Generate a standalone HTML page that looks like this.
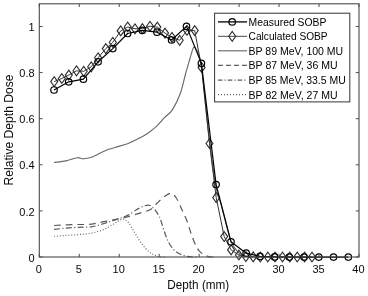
<!DOCTYPE html>
<html><head><meta charset="utf-8"><title>SOBP</title>
<style>
html,body{margin:0;padding:0;background:#fff;}
body{width:368px;height:296px;overflow:hidden;font-family:"Liberation Sans",sans-serif;}
svg{display:block;transform:translateZ(0);will-change:transform;filter:blur(0.3px);}
svg text{font-family:"Liberation Sans",sans-serif;fill:#0a0a0a;}
.tk text{font-size:11px;}
.lt text{font-size:10.55px;fill:#000;}
.ax line{stroke:#4a4a4a;stroke-width:1;}
.s89{fill:none;stroke:#6a6a6a;stroke-width:1.15;}
.s87{fill:none;stroke:#5a5a5a;stroke-width:1.2;stroke-dasharray:6.8 4.9;}
.l87{stroke-dasharray:4.8 3.2;}
.s85{fill:none;stroke:#5a5a5a;stroke-width:1.2;stroke-dasharray:6 2.4 1.1 2.4;}
.l85{stroke-dasharray:4.5 2.1 1.1 2.1;}
.s82{fill:none;stroke:#666;stroke-width:1.2;stroke-dasharray:1 1.9;}
.l82{stroke-dasharray:1 2;}
</style></head>
<body>
<svg width="368" height="296" viewBox="0 0 368 296">
<rect x="0" y="0" width="368" height="296" fill="#fff"/>
<path class="s89" d="M54.0 162.5C56.0 162.2 62.2 161.7 66.0 160.9C69.8 160.1 74.1 158.0 77.0 157.7C79.9 157.3 81.0 158.9 83.5 158.8C86.0 158.7 88.6 158.3 92.2 157.0C95.8 155.7 101.4 152.3 105.2 150.7C109.0 149.1 111.3 148.7 115.0 147.5C118.7 146.3 123.3 145.3 127.5 143.7C131.7 142.1 136.8 139.5 140.0 137.8C143.2 136.1 144.4 135.5 147.0 133.7C149.6 131.9 152.7 129.9 155.6 127.2C158.5 124.5 161.6 120.6 164.4 117.7C167.2 114.8 169.9 113.6 172.5 109.6C175.1 105.6 178.0 99.6 180.2 93.8C182.3 88.0 183.8 80.4 185.4 74.5C187.0 68.6 188.7 63.0 190.0 58.5C191.3 54.0 192.5 49.1 193.5 47.5C194.5 45.9 195.2 47.8 196.0 49.0C196.8 50.2 197.6 51.2 198.5 54.5C199.4 57.8 200.0 55.0 201.7 68.5C203.4 82.0 206.4 115.7 208.8 135.5C211.2 155.3 214.0 176.1 216.0 187.5C218.0 198.9 219.6 199.0 221.0 204.0C222.4 209.0 222.8 211.2 224.5 217.5C226.2 223.8 228.8 235.8 231.0 241.5C233.2 247.2 235.7 249.6 238.0 252.0C240.3 254.4 242.7 255.2 245.0 256.0C247.3 256.8 249.5 256.8 252.0 257.0C254.5 257.0 258.7 257.0 260.0 257.0"/>
<path class="s87" d="M54.0 225.5C56.0 225.4 61.9 225.0 66.0 224.8C70.1 224.6 74.3 224.6 78.5 224.5C82.7 224.4 87.0 224.7 91.3 224.2C95.5 223.7 99.7 222.5 104.0 221.7C108.3 220.8 113.2 219.9 117.0 219.1C120.8 218.3 123.1 218.0 127.0 217.0C130.9 216.0 136.4 214.2 140.5 212.9C144.6 211.6 148.5 210.7 151.4 208.9C154.3 207.1 155.8 204.2 158.1 202.1C160.3 200.0 162.8 197.7 164.9 196.2C167.1 194.7 169.2 193.1 171.0 193.3C172.8 193.5 174.3 195.0 176.0 197.5C177.7 200.0 179.6 204.6 181.4 208.5C183.2 212.4 185.4 216.9 187.0 221.0C188.6 225.1 189.7 229.4 191.0 233.2C192.3 237.0 193.7 241.1 195.1 244.0C196.5 246.9 197.6 249.0 199.2 250.8C200.8 252.6 202.6 254.0 204.6 255.0C206.6 256.0 208.8 256.7 211.0 257.0C213.2 257.0 216.8 257.0 218.0 257.0"/>
<path class="s85" d="M54.0 229.4C56.0 229.2 61.9 228.5 66.0 228.2C70.1 227.8 74.3 227.5 78.5 227.3C82.7 227.1 87.0 227.4 91.3 226.8C95.5 226.2 100.3 224.6 104.0 223.5C107.7 222.4 109.7 221.8 113.5 220.5C117.3 219.2 123.0 217.5 127.0 215.6C131.1 213.7 134.9 210.5 137.8 208.9C140.7 207.3 142.6 206.4 144.6 205.8C146.6 205.2 148.4 205.0 150.0 205.5C151.6 206.0 152.7 207.2 154.0 208.7C155.3 210.2 157.0 212.7 158.1 214.5C159.2 216.3 159.5 216.8 160.5 219.5C161.5 222.2 162.7 226.9 164.0 230.5C165.3 234.1 166.5 238.2 168.1 241.3C169.7 244.5 171.7 247.4 173.5 249.4C175.3 251.4 176.9 252.4 178.9 253.5C180.9 254.6 183.5 255.4 185.7 256.0C187.9 256.6 189.9 256.8 192.0 257.0C194.1 257.0 197.0 257.0 198.0 257.0"/>
<path class="s82" d="M54.0 236.5C56.0 236.3 61.9 235.8 66.0 235.5C70.1 235.2 74.3 234.9 78.5 234.5C82.7 234.1 87.0 234.0 91.3 233.2C95.5 232.3 100.3 230.9 104.0 229.4C107.7 227.9 111.0 225.4 113.5 223.9C116.0 222.4 117.4 221.5 119.0 220.7C120.6 219.9 121.4 218.8 123.0 219.1C124.6 219.4 126.4 220.2 128.4 222.5C130.4 224.8 132.8 229.6 135.1 233.2C137.3 236.8 139.7 241.0 141.9 244.0C144.2 247.0 146.6 249.5 148.6 251.3C150.6 253.1 152.1 253.9 154.0 254.8C155.9 255.7 158.0 256.4 160.0 256.8C162.0 257.0 165.0 257.0 166.0 257.0"/>
<polyline points="54.2,81.6 61.8,78.5 68.8,75.1 76.5,70.8 83.7,71.3 91.2,66.8 98.1,57.8 105.8,48.6 112.8,42.3 120.7,30.9 127.7,27.0 135.0,28.8 142.4,28.6 150.0,26.2 157.3,27.1 165.0,33.1 172.0,37.4 179.7,40.3 187.0,30.3 194.7,30.6 201.6,67.4 209.5,143.5 216.2,197.6 224.2,236.6 231.1,249.9 238.9,255.0 245.9,256.6 253.2,256.9 260.3,257.0 267.8,257.0 275.0,257.0 282.5,257.0 289.8,257.0 297.2,257.0 304.6,257.0 312.0,257.0" fill="none" stroke="#333" stroke-width="1.0"/>
<path d="M50.7 81.6L54.2 76.7L57.7 81.6L54.2 86.5Z" fill="none" stroke="#2a2a2a" stroke-width="1.1"/><path d="M58.3 78.5L61.8 73.6L65.3 78.5L61.8 83.4Z" fill="none" stroke="#2a2a2a" stroke-width="1.1"/><path d="M65.3 75.1L68.8 70.2L72.3 75.1L68.8 80.0Z" fill="none" stroke="#2a2a2a" stroke-width="1.1"/><path d="M73.0 70.8L76.5 65.9L80.0 70.8L76.5 75.7Z" fill="none" stroke="#2a2a2a" stroke-width="1.1"/><path d="M80.2 71.3L83.7 66.4L87.2 71.3L83.7 76.2Z" fill="none" stroke="#2a2a2a" stroke-width="1.1"/><path d="M87.7 66.8L91.2 61.9L94.7 66.8L91.2 71.7Z" fill="none" stroke="#2a2a2a" stroke-width="1.1"/><path d="M94.6 57.8L98.1 52.9L101.6 57.8L98.1 62.7Z" fill="none" stroke="#2a2a2a" stroke-width="1.1"/><path d="M102.3 48.6L105.8 43.7L109.3 48.6L105.8 53.5Z" fill="none" stroke="#2a2a2a" stroke-width="1.1"/><path d="M109.3 42.3L112.8 37.4L116.3 42.3L112.8 47.2Z" fill="none" stroke="#2a2a2a" stroke-width="1.1"/><path d="M117.2 30.9L120.7 26.0L124.2 30.9L120.7 35.8Z" fill="none" stroke="#2a2a2a" stroke-width="1.1"/><path d="M124.2 27.0L127.7 22.1L131.2 27.0L127.7 31.9Z" fill="none" stroke="#2a2a2a" stroke-width="1.1"/><path d="M131.5 28.8L135.0 23.9L138.5 28.8L135.0 33.7Z" fill="none" stroke="#2a2a2a" stroke-width="1.1"/><path d="M138.9 28.6L142.4 23.7L145.9 28.6L142.4 33.5Z" fill="none" stroke="#2a2a2a" stroke-width="1.1"/><path d="M146.5 26.2L150.0 21.4L153.5 26.2L150.0 31.1Z" fill="none" stroke="#2a2a2a" stroke-width="1.1"/><path d="M153.8 27.1L157.3 22.2L160.8 27.1L157.3 32.0Z" fill="none" stroke="#2a2a2a" stroke-width="1.1"/><path d="M161.5 33.1L165.0 28.2L168.5 33.1L165.0 38.0Z" fill="none" stroke="#2a2a2a" stroke-width="1.1"/><path d="M168.5 37.4L172.0 32.5L175.5 37.4L172.0 42.3Z" fill="none" stroke="#2a2a2a" stroke-width="1.1"/><path d="M176.2 40.3L179.7 35.4L183.2 40.3L179.7 45.2Z" fill="none" stroke="#2a2a2a" stroke-width="1.1"/><path d="M183.5 30.3L187.0 25.4L190.5 30.3L187.0 35.2Z" fill="none" stroke="#2a2a2a" stroke-width="1.1"/><path d="M191.2 30.6L194.7 25.7L198.2 30.6L194.7 35.5Z" fill="none" stroke="#2a2a2a" stroke-width="1.1"/><path d="M198.1 67.4L201.6 62.5L205.1 67.4L201.6 72.3Z" fill="none" stroke="#2a2a2a" stroke-width="1.1"/><path d="M206.0 143.5L209.5 138.6L213.0 143.5L209.5 148.4Z" fill="none" stroke="#2a2a2a" stroke-width="1.1"/><path d="M212.7 197.6L216.2 192.7L219.7 197.6L216.2 202.5Z" fill="none" stroke="#2a2a2a" stroke-width="1.1"/><path d="M220.7 236.6L224.2 231.7L227.7 236.6L224.2 241.5Z" fill="none" stroke="#2a2a2a" stroke-width="1.1"/><path d="M227.6 249.9L231.1 245.0L234.6 249.9L231.1 254.8Z" fill="none" stroke="#2a2a2a" stroke-width="1.1"/><path d="M235.4 255.0L238.9 250.1L242.4 255.0L238.9 259.9Z" fill="none" stroke="#2a2a2a" stroke-width="1.1"/><path d="M242.4 256.6L245.9 251.7L249.4 256.6L245.9 261.5Z" fill="none" stroke="#2a2a2a" stroke-width="1.1"/><path d="M249.7 256.9L253.2 252.0L256.7 256.9L253.2 261.8Z" fill="none" stroke="#2a2a2a" stroke-width="1.1"/><path d="M256.8 257.0L260.3 252.1L263.8 257.0L260.3 261.9Z" fill="none" stroke="#2a2a2a" stroke-width="1.1"/><path d="M264.3 257.0L267.8 252.1L271.3 257.0L267.8 261.9Z" fill="none" stroke="#2a2a2a" stroke-width="1.1"/><path d="M271.5 257.0L275.0 252.1L278.5 257.0L275.0 261.9Z" fill="none" stroke="#2a2a2a" stroke-width="1.1"/><path d="M279.0 257.0L282.5 252.1L286.0 257.0L282.5 261.9Z" fill="none" stroke="#2a2a2a" stroke-width="1.1"/><path d="M286.3 257.0L289.8 252.1L293.3 257.0L289.8 261.9Z" fill="none" stroke="#2a2a2a" stroke-width="1.1"/><path d="M293.7 257.0L297.2 252.1L300.7 257.0L297.2 261.9Z" fill="none" stroke="#2a2a2a" stroke-width="1.1"/><path d="M301.1 257.0L304.6 252.1L308.1 257.0L304.6 261.9Z" fill="none" stroke="#2a2a2a" stroke-width="1.1"/><path d="M308.5 257.0L312.0 252.1L315.5 257.0L312.0 261.9Z" fill="none" stroke="#2a2a2a" stroke-width="1.1"/>
<polyline points="54.0,90.0 68.7,81.8 83.4,79.2 98.1,61.8 112.8,48.6 127.6,33.5 142.3,30.4 157.0,32.2 171.6,40.0 186.5,26.4 201.4,63.4 216.1,184.6 231.0,241.8 246.2,253.2 260.0,256.4 274.6,256.9 289.3,257.1 304.0,257.1 318.8,257.1 333.5,257.1 348.3,257.1" fill="none" stroke="#000" stroke-width="1.2" stroke-linejoin="round"/>
<circle cx="54.0" cy="90.0" r="3.25" fill="none" stroke="#000" stroke-width="1.2"/><circle cx="68.7" cy="81.8" r="3.25" fill="none" stroke="#000" stroke-width="1.2"/><circle cx="83.4" cy="79.2" r="3.25" fill="none" stroke="#000" stroke-width="1.2"/><circle cx="98.1" cy="61.8" r="3.25" fill="none" stroke="#000" stroke-width="1.2"/><circle cx="112.8" cy="48.6" r="3.25" fill="none" stroke="#000" stroke-width="1.2"/><circle cx="127.6" cy="33.5" r="3.25" fill="none" stroke="#000" stroke-width="1.2"/><circle cx="142.3" cy="30.4" r="3.25" fill="none" stroke="#000" stroke-width="1.2"/><circle cx="157.0" cy="32.2" r="3.25" fill="none" stroke="#000" stroke-width="1.2"/><circle cx="171.6" cy="40.0" r="3.25" fill="none" stroke="#000" stroke-width="1.2"/><circle cx="186.5" cy="26.4" r="3.25" fill="none" stroke="#000" stroke-width="1.2"/><circle cx="201.4" cy="63.4" r="3.25" fill="none" stroke="#000" stroke-width="1.2"/><circle cx="216.1" cy="184.6" r="3.25" fill="none" stroke="#000" stroke-width="1.2"/><circle cx="231.0" cy="241.8" r="3.25" fill="none" stroke="#000" stroke-width="1.2"/><circle cx="246.2" cy="253.2" r="3.25" fill="none" stroke="#000" stroke-width="1.2"/><circle cx="260.0" cy="256.4" r="3.25" fill="none" stroke="#000" stroke-width="1.2"/><circle cx="274.6" cy="256.9" r="3.25" fill="none" stroke="#000" stroke-width="1.2"/><circle cx="289.3" cy="257.1" r="3.25" fill="none" stroke="#000" stroke-width="1.2"/><circle cx="304.0" cy="257.1" r="3.25" fill="none" stroke="#000" stroke-width="1.2"/><circle cx="318.8" cy="257.1" r="3.25" fill="none" stroke="#000" stroke-width="1.2"/><circle cx="333.5" cy="257.1" r="3.25" fill="none" stroke="#000" stroke-width="1.2"/><circle cx="348.3" cy="257.1" r="3.25" fill="none" stroke="#000" stroke-width="1.2"/>
<g class="ax"><rect x="39.3" y="3.8" width="319.7" height="253.2" fill="none" stroke="#4a4a4a" stroke-width="1.1"/><line x1="39.3" y1="257" x2="39.3" y2="253.8"/><line x1="39.3" y1="3.8" x2="39.3" y2="7.0"/><line x1="79.25999999999999" y1="257" x2="79.25999999999999" y2="253.8"/><line x1="79.25999999999999" y1="3.8" x2="79.25999999999999" y2="7.0"/><line x1="119.22" y1="257" x2="119.22" y2="253.8"/><line x1="119.22" y1="3.8" x2="119.22" y2="7.0"/><line x1="159.18" y1="257" x2="159.18" y2="253.8"/><line x1="159.18" y1="3.8" x2="159.18" y2="7.0"/><line x1="199.14" y1="257" x2="199.14" y2="253.8"/><line x1="199.14" y1="3.8" x2="199.14" y2="7.0"/><line x1="239.10000000000002" y1="257" x2="239.10000000000002" y2="253.8"/><line x1="239.10000000000002" y1="3.8" x2="239.10000000000002" y2="7.0"/><line x1="279.06" y1="257" x2="279.06" y2="253.8"/><line x1="279.06" y1="3.8" x2="279.06" y2="7.0"/><line x1="319.02000000000004" y1="257" x2="319.02000000000004" y2="253.8"/><line x1="319.02000000000004" y1="3.8" x2="319.02000000000004" y2="7.0"/><line x1="358.98" y1="257" x2="358.98" y2="253.8"/><line x1="358.98" y1="3.8" x2="358.98" y2="7.0"/><line x1="39.3" y1="257.0" x2="42.5" y2="257.0"/><line x1="359.0" y1="257.0" x2="355.8" y2="257.0"/><line x1="39.3" y1="210.9" x2="42.5" y2="210.9"/><line x1="359.0" y1="210.9" x2="355.8" y2="210.9"/><line x1="39.3" y1="164.8" x2="42.5" y2="164.8"/><line x1="359.0" y1="164.8" x2="355.8" y2="164.8"/><line x1="39.3" y1="118.7" x2="42.5" y2="118.7"/><line x1="359.0" y1="118.7" x2="355.8" y2="118.7"/><line x1="39.3" y1="72.6" x2="42.5" y2="72.6"/><line x1="359.0" y1="72.6" x2="355.8" y2="72.6"/><line x1="39.3" y1="26.5" x2="42.5" y2="26.5"/><line x1="359.0" y1="26.5" x2="355.8" y2="26.5"/></g>
<g class="tk"><text x="38.8" y="273.0" text-anchor="middle">0</text><text x="78.75999999999999" y="273.0" text-anchor="middle">5</text><text x="118.72" y="273.0" text-anchor="middle">10</text><text x="158.68" y="273.0" text-anchor="middle">15</text><text x="198.64" y="273.0" text-anchor="middle">20</text><text x="238.60000000000002" y="273.0" text-anchor="middle">25</text><text x="278.56" y="273.0" text-anchor="middle">30</text><text x="318.52000000000004" y="273.0" text-anchor="middle">35</text><text x="358.48" y="273.0" text-anchor="middle">40</text><text x="34.6" y="261.6" text-anchor="end">0</text><text x="34.6" y="215.5" text-anchor="end">0.2</text><text x="34.6" y="169.4" text-anchor="end">0.4</text><text x="34.6" y="123.3" text-anchor="end">0.6</text><text x="34.6" y="77.2" text-anchor="end">0.8</text><text x="34.6" y="31.1" text-anchor="end">1</text></g>
<text transform="translate(198.3,288.8) scale(0.97,1)" text-anchor="middle" font-size="12.1">Depth (mm)</text>
<text transform="translate(13.3,130) rotate(-90)" text-anchor="middle" font-size="12.1">Relative Depth Dose</text>
<rect x="214.6" y="13.2" width="135.2" height="88.7" fill="#fff" stroke="#333" stroke-width="1"/><line x1="218.0" y1="21.9" x2="247.0" y2="21.9" stroke="#000" stroke-width="1.3"/><circle cx="232.2" cy="21.9" r="3.25" fill="none" stroke="#000" stroke-width="1.2"/><line x1="218.0" y1="36.3" x2="247.0" y2="36.3" stroke="#333" stroke-width="0.9"/><path d="M228.7 36.3L232.2 31.4L235.7 36.3L232.2 41.2Z" fill="none" stroke="#2a2a2a" stroke-width="1.1"/><line x1="218.0" y1="50.8" x2="247.0" y2="50.8" class="s89"/><line x1="218.0" y1="65.4" x2="247.0" y2="65.4" class="s87 l87"/><line x1="218.0" y1="80.1" x2="247.0" y2="80.1" class="s85 l85"/><line x1="218.0" y1="94.7" x2="247.0" y2="94.7" class="s82 l82"/><g class="lt"><text x="248.6" y="25.8" textLength="77.8" lengthAdjust="spacingAndGlyphs">Measured SOBP</text><text x="248.6" y="40.2" textLength="79.0" lengthAdjust="spacingAndGlyphs">Calculated SOBP</text><text x="248.6" y="54.7" textLength="94.6" lengthAdjust="spacingAndGlyphs">BP 89 MeV, 100 MU</text><text x="248.6" y="69.3" textLength="89.0" lengthAdjust="spacingAndGlyphs">BP 87 MeV, 36 MU</text><text x="248.6" y="84.0" textLength="97.2" lengthAdjust="spacingAndGlyphs">BP 85 MeV, 33.5 MU</text><text x="248.6" y="98.6" textLength="89.0" lengthAdjust="spacingAndGlyphs">BP 82 MeV, 27 MU</text></g>
</svg>
</body></html>
